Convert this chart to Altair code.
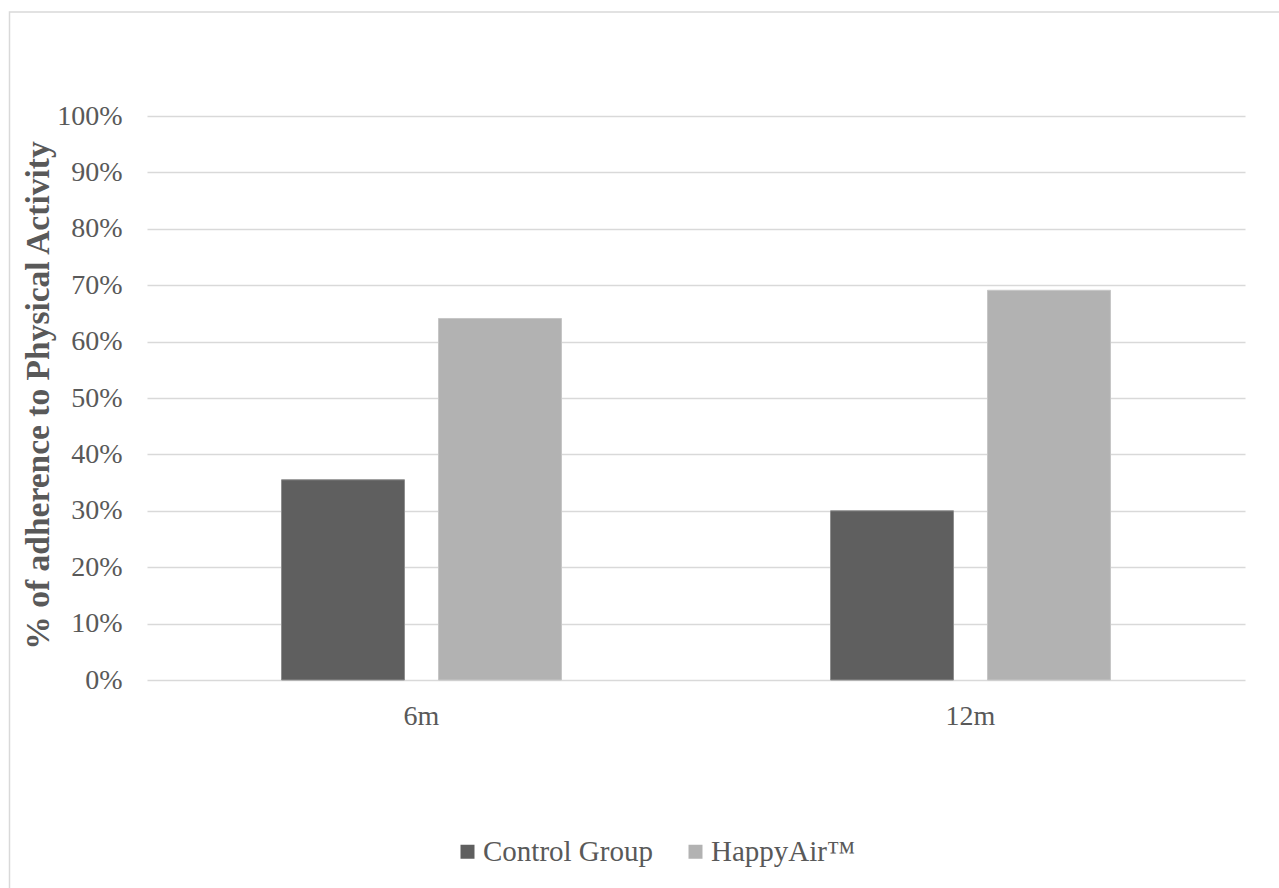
import altair as alt
import pandas as pd

# Adherence to physical activity by follow-up time point
timepoints = ["6m", "12m"]
groups = ["Control Group", "HappyAir™"]
control_values = [0.355, 0.300]
happyair_values = [0.641, 0.691]
y_ticks = [0.0, 0.1, 0.2, 0.3, 0.4, 0.5, 0.6, 0.7, 0.8, 0.9, 1.0]
group_colors = ["#5f5f5f", "#b2b2b2"]
group_edges = ["#8e8e8e", "#c6c6c6"]

rows = []
for i, t in enumerate(timepoints):
    rows.append({"time": t, "group": groups[0], "value": control_values[i]})
    rows.append({"time": t, "group": groups[1], "value": happyair_values[i]})
df = pd.DataFrame(rows)

FONT = "Liberation Serif"
TEXT = "#595959"
GRID = "#d9d9d9"

bars = alt.Chart(df).mark_bar(strokeWidth=1).encode(
    x=alt.X(
        "time:N",
        sort=timepoints,
        scale=alt.Scale(paddingInner=0, paddingOuter=0),
        axis=alt.Axis(
            title=None,
            labelAngle=0,
            labelFont=FONT,
            labelFontSize=28,
            labelColor=TEXT,
            labelPadding=22,
            ticks=False,
            domain=False,
        ),
    ),
    xOffset=alt.XOffset(
        "group:N",
        sort=groups,
        scale=alt.Scale(paddingInner=0.2166, paddingOuter=0.857),
    ),
    y=alt.Y(
        "value:Q",
        scale=alt.Scale(domain=[0, 1]),
        axis=alt.Axis(
            title="% of adherence to Physical Activity",
            values=y_ticks,
            format=".0%",
            labelFont=FONT,
            labelFontSize=28,
            labelColor=TEXT,
            labelPadding=25,
            ticks=False,
            domain=False,
            grid=True,
            gridColor=GRID,
            gridWidth=1.5,
            titleFont=FONT,
            titleFontSize=33.5,
            titleFontWeight="bold",
            titleColor=TEXT,
            titleAngle=270,
            titleX=-99,
            titleY=279,
            titleAlign="center",
            titleBaseline="alphabetic",
        ),
    ),
    color=alt.Color(
        "group:N",
        sort=groups,
        scale=alt.Scale(domain=groups, range=group_colors),
        legend=alt.Legend(
            title=None,
            orient="none",
            direction="horizontal",
            legendX=306,
            legendY=721,
            symbolType="square",
            symbolSize=196,
            symbolStrokeWidth=0,
            labelFont=FONT,
            labelFontSize=29,
            labelColor=TEXT,
            labelOffset=1,
            labelLimit=400,
            columnPadding=28,
            padding=0,
        ),
    ),
    stroke=alt.Stroke(
        "group:N",
        sort=groups,
        scale=alt.Scale(domain=groups, range=group_edges),
        legend=None,
    ),
)

# light outer frame around the chart area
frame = alt.Chart(alt.Data(values=[{"f": 1}])).mark_rect(
    fill="transparent", stroke=GRID, strokeWidth=1.5
).encode(
    x=alt.value(-137.5),
    x2=alt.value(1150),
    y=alt.value(-104),
    y2=alt.value(790),
)

chart = alt.layer(frame, bars).properties(
    width=1098,
    height=564,
    padding={"left": 147, "top": 116, "right": 34, "bottom": 208},
    autosize=alt.AutoSizeParams(type="none"),
    background="white",
).configure_view(stroke=None)

chart.save("out.html", embed_options={"renderer": "svg", "actions": False})
